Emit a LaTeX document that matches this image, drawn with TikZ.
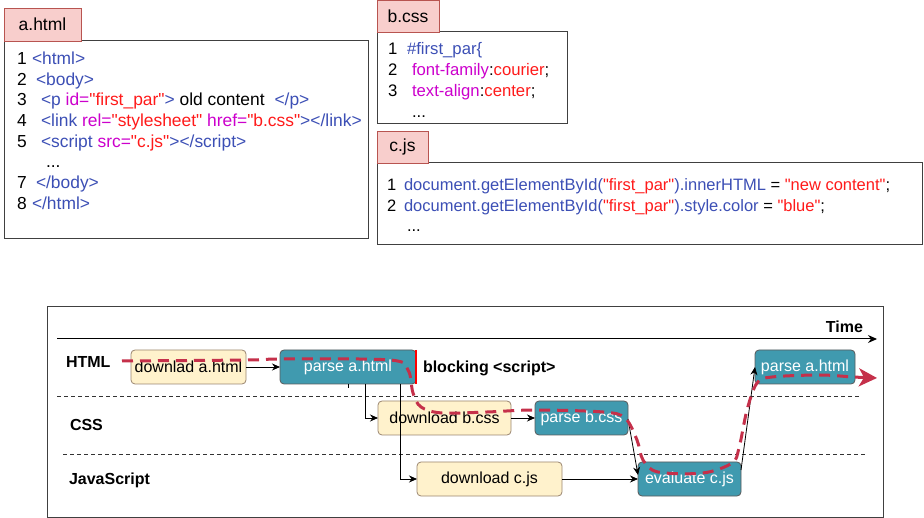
\documentclass[tikz,border=0pt]{standalone}
\usepackage{fontspec}
\setmainfont{Liberation Sans}[Ligatures=TeXOff]
\usetikzlibrary{arrows.meta,calc}
\definecolor{cblue}{HTML}{3C4FB5}
\definecolor{cmag}{HTML}{CC00CC}
\definecolor{cred}{HTML}{FF1A1A}
\definecolor{tabfill}{HTML}{F8CECC}
\definecolor{tabdraw}{HTML}{B85450}
\definecolor{yfill}{HTML}{FFF2CC}
\definecolor{ydraw}{HTML}{9A8670}
\definecolor{tfill}{HTML}{409AAF}
\definecolor{tdraw}{HTML}{5A5A5A}
\definecolor{pathred}{HTML}{C5304A}
\newcommand{\cB}[1]{\textcolor{cblue}{#1}}
\newcommand{\cM}[1]{\textcolor{cmag}{#1}}
\newcommand{\cR}[1]{\textcolor{cred}{#1}}
\tikzset{
  x=1pt, y=-1pt,
  every node/.style={inner sep=0pt, outer sep=0pt, font=\fontsize{16}{20}\selectfont},
  tabbox/.style={draw=tabdraw, fill=tabfill, line width=0.8pt, font=\fontsize{17.5}{20}\selectfont},
  filebox/.style={draw=black!75, line width=1pt},
  codeA/.style={anchor=base west, font=\fontsize{17.4}{20}\selectfont},
  codeB/.style={anchor=base west, font=\fontsize{16.7}{20}\selectfont},
  codeC/.style={anchor=base west, font=\fontsize{16.5}{20}\selectfont},
  ybox/.style={draw=ydraw, fill=yfill, rounded corners=4pt, line width=0.8pt},
  tbox/.style={draw=tdraw, fill=tfill, rounded corners=4pt, line width=0.8pt, text=white},
  conn/.style={draw=black, line width=0.8pt, -{Stealth[length=8pt,width=7pt]}},
  lane/.style={anchor=west, font=\fontsize{16}{20}\selectfont\bfseries},
  sep/.style={draw=black!80, line width=0.7pt, dash pattern=on 4pt off 3pt},
  redpath/.style={draw=pathred, line width=3pt, dash pattern=on 11pt off 7pt}
}
\begin{document}
\begin{tikzpicture}
\useasboundingbox (0,0) rectangle (924,518);
% ---------- a.html ----------
\node[filebox, minimum width=364pt, minimum height=198pt, anchor=north west] (abox) at (4,41) {};
\node[tabbox, minimum width=77pt, minimum height=33pt, anchor=south west] (atab) at (4,41) {a.html};
\node[codeA] (an1) at (17,65) {1};  \node[codeA] (ac1) at (32,65) {\cB{<html>}};
\node[codeA] (an2) at (17,86) {2};  \node[codeA] (ac2) at (36,86) {\cB{<body>}};
\node[codeA] (an3) at (17,106) {3}; \node[codeA] (ac3) at (41,106) {\cB{<p} \cM{id=}\cR{"first\_par"}\cB{>} old content\hspace{5pt} \cB{</p>}};
\node[codeA] (an4) at (17,127) {4}; \node[codeA] (ac4) at (41,127) {\cB{<link} \cM{rel=}\cR{"stylesheet"} \cM{href=}\cR{"b.css"}\cB{></link>}};
\node[codeA] (an5) at (17,148) {5}; \node[codeA] (ac5) at (41,148) {\cB{<script} \cM{src=}\cR{"c.js"}\cB{></script>}};
\node[codeA] (ac6) at (46,168) {...};
\node[codeA] (an7) at (17,189) {7}; \node[codeA] (ac7) at (36,189) {\cB{</body>}};
\node[codeA] (an8) at (17,210) {8}; \node[codeA] (ac8) at (32,210) {\cB{</html>}};
% ---------- b.css ----------
\node[filebox, minimum width=190pt, minimum height=92pt, anchor=north west] (bbox) at (377,32) {};
\node[tabbox, minimum width=62pt, minimum height=32pt, anchor=south west] (btab) at (377,32) {b.css};
\node[codeB] (bn1) at (388,55) {1}; \node[codeB] (bc1) at (407,55) {\cB{\#first\_par\{}};
\node[codeB] (bn2) at (388,76) {2}; \node[codeB] (bc2) at (412,76) {\cM{font-family}:\cR{courier};};
\node[codeB] (bn3) at (388,97) {3}; \node[codeB] (bc3) at (412,97) {\cM{text-align}:\cR{center};};
\node[codeB] (bc4) at (412,118) {...};
% ---------- c.js ----------
\node[filebox, minimum width=545pt, minimum height=82pt, anchor=north west] (cbox) at (377,163) {};
\node[tabbox, minimum width=51pt, minimum height=32pt, anchor=south west] (ctab) at (377,163) {c.js};
\node[codeC] (cn1) at (387,191) {1}; \node[codeC] (cc1) at (404,191) {\cB{document.getElementById(}\cR{"first\_par"}\cB{).innerHTML} = \cR{"new content"};};
\node[codeC] (cn2) at (387,212) {2}; \node[codeC] (cc2) at (404,212) {\cB{document.getElementById(}\cR{"first\_par"}\cB{).style.color} = \cR{"blue"};};
\node[codeC] (cc3) at (407,232) {...};
% ---------- timeline ----------
\node[draw=black!75, line width=1pt, minimum width=836pt, minimum height=210pt, anchor=north west] (frame) at (47,307) {};
\coordinate (t0) at (57,339);
\coordinate (t1) at (877,339);
\draw[line width=1pt, -{Stealth[length=9pt,width=8pt]}] (t0) -- (t1);
\node[anchor=base east, font=\fontsize{16}{20}\selectfont\bfseries] (time) at (863,333) {Time};
\coordinate (s1a) at (57,396); \coordinate (s1b) at (860,396);
\coordinate (s2a) at (63,454); \coordinate (s2b) at (866,454);
\draw[sep] (s1a) -- (s1b);
\draw[sep] (s2a) -- (s2b);
\node[lane] (lhtml) at (66,362) {HTML};
\node[lane] (lcss) at (70,425) {CSS};
\node[lane] (ljs) at (69,480) {JavaScript};
\node[lane] (block) at (423,368) {blocking <script>};
% boxes
\node[ybox, minimum width=115pt, minimum height=34pt] (da) at (188.5,367) {downlad a.html};
\node[tbox, minimum width=136pt, minimum height=34pt] (pa1) at (348,367) {parse a.html};
\node[ybox, minimum width=133pt, minimum height=34pt] (db) at (444.5,418) {download b.css};
\node[tbox, minimum width=93pt, minimum height=34pt] (pb) at (581.5,418) {parse b.css};
\node[ybox, minimum width=145pt, minimum height=34pt] (dc) at (489.5,479) {download c.js};
\node[tbox, minimum width=103pt, minimum height=34pt] (ev) at (689.5,479) {evaluate c.js};
\node[tbox, minimum width=100pt, minimum height=34pt] (pa2) at (805,367) {parse a.html};
% connectors
\draw[conn] (da) -- (pa1);
\draw[line width=0.8pt] (pa1.south) -- ++(0,4);
\draw[conn] ([xshift=17pt]pa1.south) |- (db.west);
\draw[conn] ([xshift=52pt]pa1.south) |- (dc.west);
\draw[conn] (db) -- (pb);
\draw[conn] (dc) -- (ev);
\draw[conn] ([yshift=-1pt]pb.east) -- ([yshift=4pt]ev.west);
\draw[conn] ([yshift=9pt]ev.east) -- (pa2.west);
% red blocking line
\draw[draw=red, line width=2pt] (pa1.north east) -- (pa1.south east);
% red dashed path
\draw[redpath, -{Stealth[length=18pt,width=18pt,inset=5pt]}] plot[smooth, tension=0.55] coordinates {
 (122,361) (247,360) (283,359) (390,360) (408,370) (413,393) (421,407) (442,413) (487,412) (535,410) (603,412) (625,418) (637,440) (643,460) (658,472) (703,473) (732,463) (739,448) (747,410) (757,383) (772,377) (820,375) (853,377) (877,378)};
\end{tikzpicture}
\end{document}
